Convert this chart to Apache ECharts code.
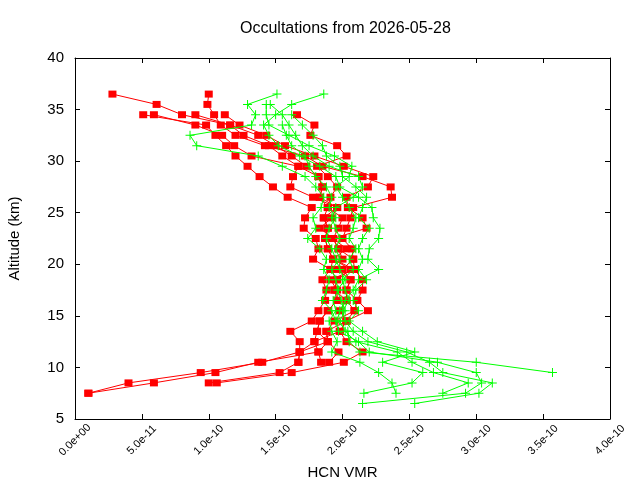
<!DOCTYPE html>
<html>
<head>
<meta charset="utf-8">
<script src="https://cdn.jsdelivr.net/npm/echarts@6/dist/echarts.min.js"></script>
<style>html,body{margin:0;padding:0;background:#fff}#c{width:640px;height:480px}</style>
</head>
<body>
<div id="c"></div>
<script>
// Altitude levels (km), top to bottom
const ALT = [36.5,35.5,34.5,33.5,32.5,31.5,30.5,29.5,28.5,27.5,26.5,25.5,24.5,23.5,22.5,21.5,20.5,19.5,18.5,17.5,16.5,15.5,14.5,13.5,12.5,11.5,10.5,9.5,8.5,7.5,6.5];
// HCN VMR values in units of 1e-10 (null = no retrieval at that level)
const red1 = [0.28,0.61,0.80,1.16,1.37,1.50,1.62,1.73,1.82,1.85,1.83,1.89,1.86,1.89,1.87,1.89,1.93,1.91,1.96,1.94,1.96,1.89,1.83,1.81,1.79,1.68,1.40,0.94,0.40,0.10,null];
const red2 = [1.00,0.99,1.04,1.09,1.20,1.42,1.72,1.85,2.15,2.36,2.37,2.08,2.06,2.03,2.00,2.07,2.08,2.09,2.15,2.15,2.11,2.19,2.03,1.98,2.03,2.15,2.01,1.62,1.06,null,null];
const red3 = [null,null,0.51,0.98,1.05,1.13,1.20,1.29,1.38,1.48,1.59,1.77,1.72,1.71,1.80,1.82,1.78,1.91,1.85,1.88,1.87,1.82,1.77,1.61,1.68,1.68,1.67,1.53,1.00,null,null];
const red4 = [null,null,0.59,0.90,1.10,1.19,1.32,1.67,1.63,1.61,1.78,1.96,1.92,1.83,1.93,1.97,2.00,1.96,2.06,2.03,2.03,2.09,1.94,1.88,1.89,1.82,1.37,1.05,0.59,0.10,null];
const red5 = [null,null,1.12,1.23,1.43,1.57,1.79,2.01,2.23,2.19,2.03,2.04,2.15,2.18,1.93,2.03,1.93,2.06,1.96,1.94,2.03,1.98,2.03,1.88,1.89,1.97,1.90,null,null,null,null];
const red6 = [null,null,1.66,1.79,1.76,1.96,2.03,1.81,1.89,1.96,1.91,1.89,2.00,1.97,1.93,1.97,2.08,2.00,2.06,2.03,2.11,2.09,2.03,1.98,1.79,1.82,1.84,null,null,null,null];
const red7 = [null,null,0.90,1.16,1.26,1.45,1.55,1.67,1.82,1.85,1.83,1.96,1.86,1.89,1.87,1.89,1.93,2.09,1.91,1.96,1.96,1.89,1.83,1.81,1.89,1.68,1.67,null,null,null,null];
const green1 = [1.86,1.62,1.50,1.41,1.45,1.52,1.68,1.83,1.95,1.98,2.12,2.22,2.23,2.28,2.27,2.20,2.19,2.27,2.12,2.08,2.02,1.98,1.96,2.04,2.05,2.13,3.00,3.57,null,null,null];
const green2 = [1.51,1.29,1.35,1.32,0.86,0.91,1.37,1.55,1.72,1.80,1.86,1.84,1.78,1.80,1.74,1.83,1.88,1.86,1.90,1.88,1.85,1.92,1.95,1.97,2.12,2.20,2.71,3.00,3.04,2.92,2.15];
const green3 = [null,1.43,1.43,1.45,1.60,1.75,1.94,2.07,2.05,1.95,2.00,2.05,2.10,2.08,2.05,2.10,2.05,2.08,2.00,2.02,2.05,2.00,2.02,2.08,2.19,2.48,2.65,2.75,3.12,3.02,2.54];
const green4 = [null,1.46,1.55,1.60,1.65,1.70,1.78,1.90,2.12,2.15,2.08,1.95,1.92,1.95,1.98,1.95,1.98,1.92,1.95,1.97,1.93,1.95,1.90,1.92,1.96,1.92,2.13,2.27,2.37,2.40,null];
const green5 = [null,null,1.62,1.70,1.78,1.85,1.88,1.98,2.00,2.10,2.18,2.15,2.12,2.20,2.15,2.12,2.15,2.12,2.18,2.10,2.08,2.12,2.05,2.15,2.26,2.54,2.30,2.60,2.52,2.16,null];
const green6 = [null,null,null,1.55,1.58,1.62,1.72,1.75,1.80,1.88,1.92,1.90,1.95,1.90,1.88,1.92,1.95,1.98,2.02,1.96,1.99,2.02,1.98,2.02,2.10,2.41,2.52,2.68,2.94,2.75,null];
const UNIT = 1e-10;
const TITLE = 'Occultations from 2026-05-28';
const X_NAME = 'HCN VMR';
const Y_NAME = 'Altitude (km)';

const redProfiles = [red1,red2,red3,red4,red5,red6,red7];
const greenProfiles = [green1,green2,green3,green4,green5,green6];

function toPoints(vals){
  const pts = [];
  vals.forEach((v,i)=>{ if(v!==null) pts.push([v*UNIT, ALT[i]]); });
  return pts;
}
const PLUS = 'path://M4,0H5V4H9V5H5V9H4V5H0V4H4Z';
const series = [];
redProfiles.forEach((p,i)=>series.push({
  type:'line', name:'red'+i, data:toPoints(p), xAxisIndex:0, yAxisIndex:0,
  symbol:'rect', symbolSize:[8,7], showAllSymbol:true,
  lineStyle:{color:'#ff0000', width:1}, itemStyle:{color:'#ff0000'},
  z:2, silent:true
}));
greenProfiles.forEach((p,i)=>series.push({
  type:'line', name:'green'+i, data:toPoints(p), xAxisIndex:0, yAxisIndex:0,
  symbol:PLUS, symbolSize:9, showAllSymbol:true,
  lineStyle:{color:'#00ff00', width:1}, itemStyle:{color:'#00ff00'},
  z:3, silent:true
}));

function fmtExp(v){
  let s = v.toExponential(1);
  return s.replace(/e([+-])(\d)$/, 'e$10$2');
}
const FONT = 'Liberation Sans';
const chart = echarts.init(document.getElementById('c'), null, {renderer:'canvas'});
chart.setOption({
  animation:false,
  backgroundColor:'#ffffff',
  title:{text:TITLE, left:235, top:16,
    textStyle:{fontFamily:FONT, fontSize:16, fontWeight:'normal', color:'#000'}},
  grid:{left:75, right:30, top:58, bottom:61, containLabel:false, outerBoundsMode:'none'},
  xAxis:[{
    type:'value', min:0, max:4*UNIT, interval:0.5*UNIT, position:'bottom',
    name:X_NAME, nameLocation:'middle', nameGap:40,
    nameTextStyle:{fontFamily:FONT, fontSize:15, color:'#000'},
    axisLine:{show:true, onZero:false, lineStyle:{color:'#000', width:1}},
    axisTick:{show:true, inside:true, length:5, lineStyle:{color:'#000'}},
    axisLabel:{rotate:45, align:'center', verticalAlign:'middle', fontFamily:FONT, fontSize:11,
      color:'#000', margin:21, formatter:v=>fmtExp(v)},
    splitLine:{show:false}
  },{
    type:'value', min:0, max:4*UNIT, interval:0.5*UNIT, position:'top',
    axisLine:{show:true, onZero:false, lineStyle:{color:'#000', width:1}},
    axisTick:{show:true, inside:true, length:5, lineStyle:{color:'#000'}},
    axisLabel:{show:false}, splitLine:{show:false}
  }],
  yAxis:[{
    type:'value', min:5, max:40, interval:5, position:'left',
    name:Y_NAME, nameLocation:'middle', nameGap:53, nameRotate:90,
    nameTextStyle:{fontFamily:FONT, fontSize:15, color:'#000'},
    axisLine:{show:true, onZero:false, lineStyle:{color:'#000', width:1}},
    axisTick:{show:true, inside:true, length:5, lineStyle:{color:'#000'}},
    axisLabel:{fontFamily:FONT, fontSize:15, color:'#000', margin:11},
    splitLine:{show:false}
  },{
    type:'value', min:5, max:40, interval:5, position:'right',
    axisLine:{show:true, onZero:false, lineStyle:{color:'#000', width:1}},
    axisTick:{show:true, inside:true, length:5, lineStyle:{color:'#000'}},
    axisLabel:{show:false}, splitLine:{show:false}
  }],
  series:series
});
</script>
</body>
</html>
